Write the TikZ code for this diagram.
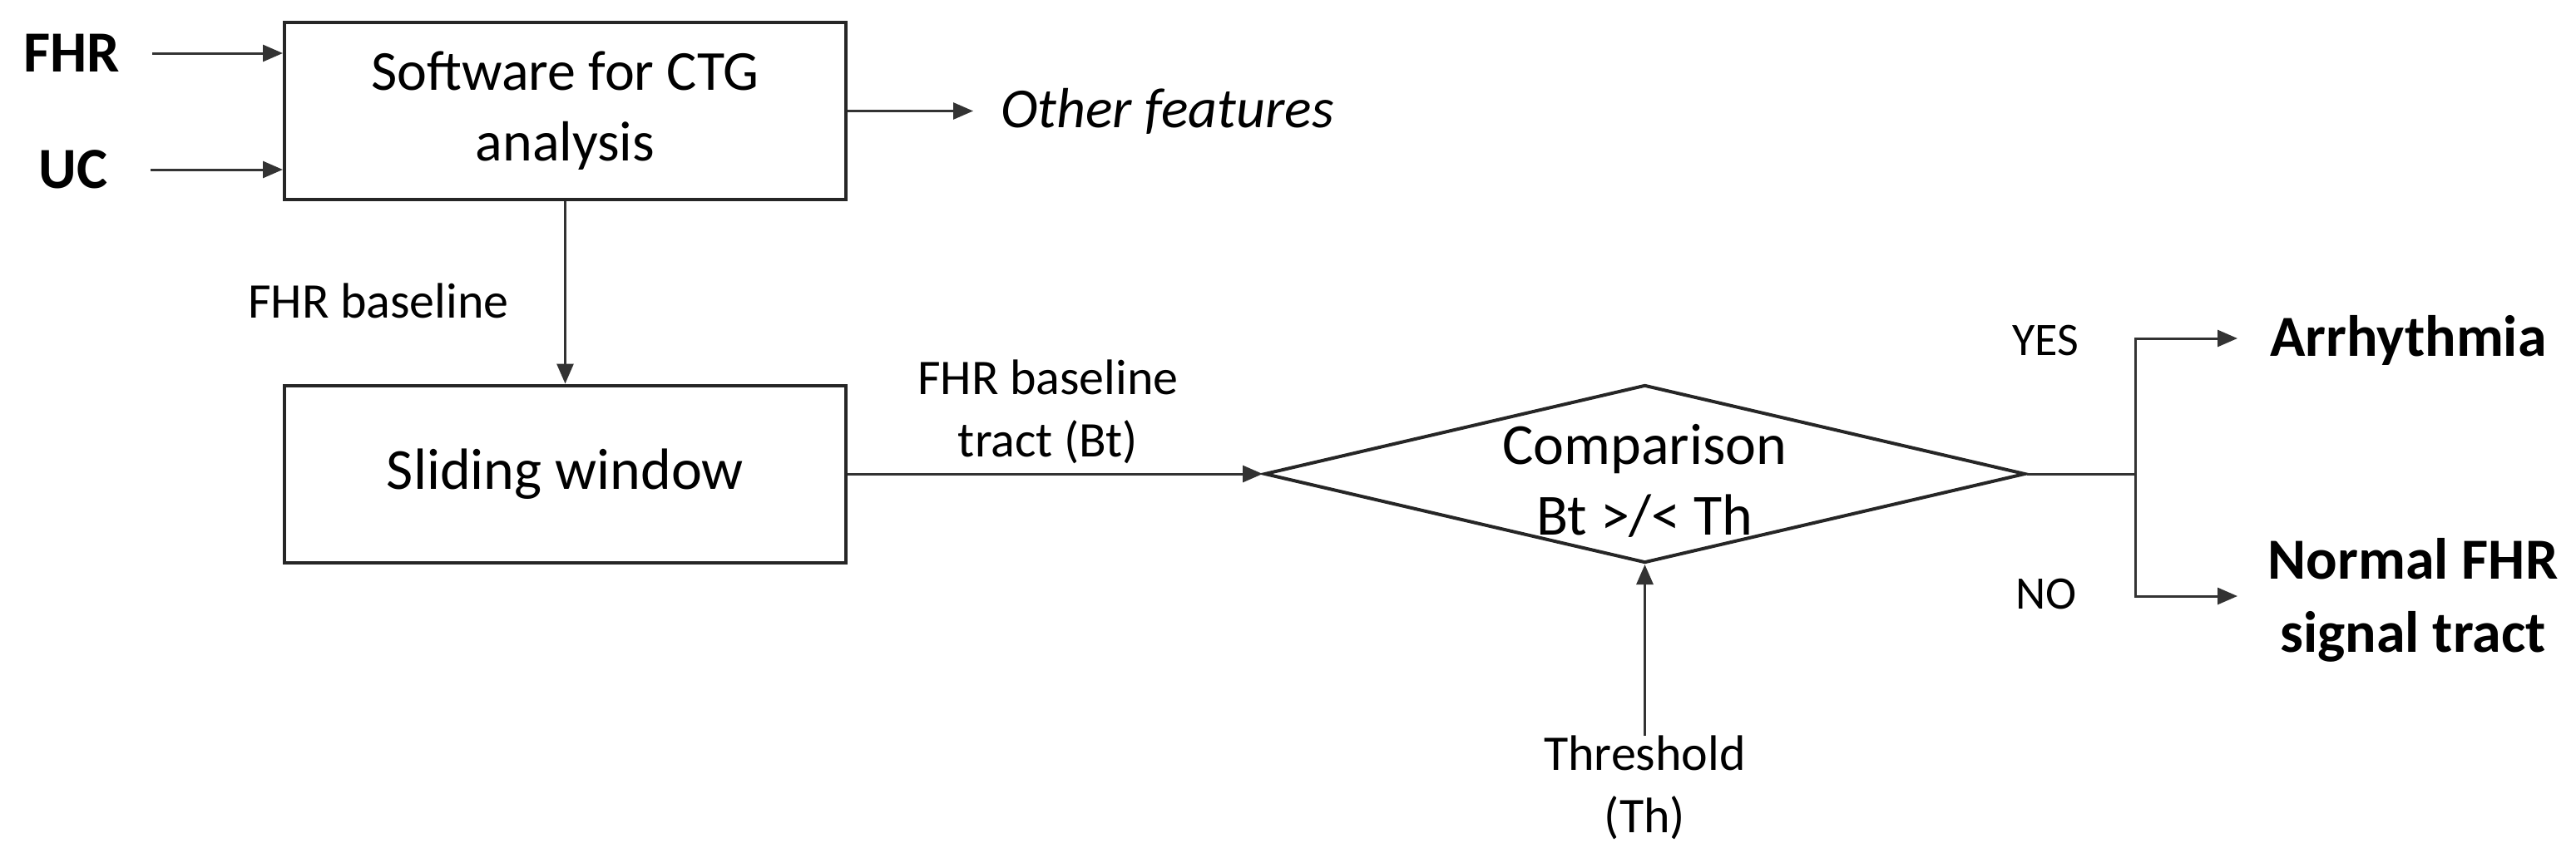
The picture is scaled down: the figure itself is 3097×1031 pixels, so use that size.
\documentclass[tikz,border=0pt]{standalone}
\usepackage{fontspec}
\setmainfont{Carlito}
\usetikzlibrary{arrows.meta,shapes.geometric}
\begin{document}
\begin{tikzpicture}[x=1pt,y=-1pt,
  box/.style={draw=black!85,line width=4pt,minimum width=675pt,minimum height=213pt,inner sep=0pt,align=center},
  conn/.style={draw=black!80,line width=3pt},
  arr/.style={conn,-{Triangle[length=24pt,width=20pt]}},
  lbl/.style={inner sep=0pt,align=center,font=\fontsize{60}{75}\selectfont},
  bigfont/.style={inner sep=0pt,font=\fontsize{70}{88}\selectfont\bfseries},
  yn/.style={inner sep=0pt,font=\fontsize{56}{68}\selectfont},
]
\useasboundingbox (0,0) rectangle (3097,1031);
% inputs
\node[bigfont] (fhr) at (86,64) {FHR};
\node[bigfont] (uc) at (88,204) {UC};
% boxes
\node[box,font=\fontsize{68}{85}\selectfont] (sw) at (679.5,133.5) {Software for CTG\\analysis};
\node[inner sep=0pt,anchor=west,font=\fontsize{68}{85}\selectfont\itshape] (other) at (1203,134) {Other features};
\node[box,font=\fontsize{70}{85}\selectfont] (slide) at (679.5,570) {Sliding window};
\node[lbl] (fb) at (455,362) {FHR baseline};
\node[lbl] (bt) at (1260,495) {FHR baseline\\tract (Bt)};
\node[diamond,draw=black!85,line width=4pt,minimum width=915pt,minimum height=214pt,inner sep=0pt,aspect=4.28] (cmp) at (1977.5,570) {};
\node[inner sep=0pt,align=center,font=\fontsize{70}{85}\selectfont] (cmptxt) at (1977.5,578) {Comparison\\Bt >/< Th};
\node[lbl,anchor=north] (thr) at (1977.5,885) {Threshold\\(Th)};
% outputs
\coordinate (jn) at (2567,570);
\coordinate (yesend) at (2690,407);
\coordinate (noend) at (2690,717);
\node[yn] (yes) at (2459,410) {YES};
\node[yn] (no) at (2460,715) {NO};
\node[bigfont,anchor=base west] (arrh) at (2729,428) {Arrhythmia};
\node[bigfont,align=center] (norm) at (2901,722) {Normal FHR\\signal tract};
% connectors
\draw[arr,shorten <=39pt] (fhr.east) -- (fhr.east -| sw.west);
\draw[arr,shorten <=51pt] (uc.east) -- (uc.east -| sw.west);
\draw[arr,shorten >=33pt] (sw.east) -- (sw.east -| other.west);
\draw[arr] (sw.south) -- (slide.north);
\draw[arr] (slide.east) -- (cmp.west);
\draw[arr] (thr.north) -- (cmp.south);
\draw[conn] (cmp.east) -- (jn);
\draw[arr] (jn) |- (yesend);
\draw[arr] (jn) |- (noend);
\end{tikzpicture}
\end{document}
